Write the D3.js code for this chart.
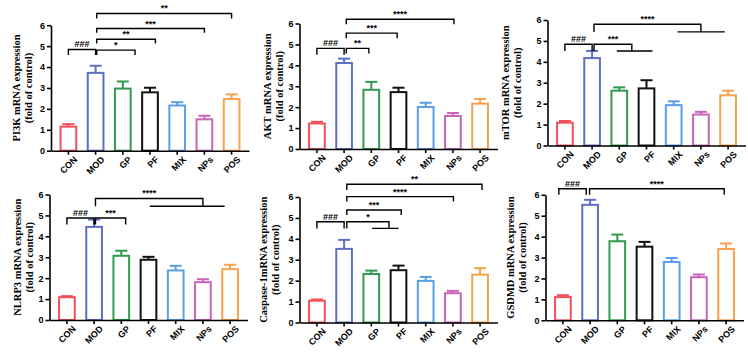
<!DOCTYPE html>
<html lang="en">
<head>
<meta charset="UTF-8">
<title>mRNA expression</title>
<style>
  body { margin: 0; background: #fff; }
  svg { display: block; }
  .axis path, .axis line { stroke: #000; stroke-width: 1.6px; }
  .axis text { font-family: "Liberation Sans", Arial, sans-serif; font-weight: bold; font-size: 9px; fill: #000; }
  .ylab { font-family: "Liberation Serif", "Times New Roman", serif; font-weight: bold; font-size: 10.5px; fill: #000; }
  .sig { font-family: "Liberation Sans", Arial, sans-serif; font-weight: bold; font-size: 9px; fill: #000; }
  .brk { fill: none; stroke: #000; stroke-width: 1.4px; }
</style>
</head>
<body>
<div id="chart"></div>
<script src="https://d3js.org/d3.v7.min.js"></script>
<script>
// groups and colours
var categories = ["CON", "MOD", "GP", "PF", "MIX", "NPs", "POS"];
var colors = ["#f0505a", "#5f6fc6", "#2f9a4e", "#111111", "#5a9ee6", "#c964b8", "#f7a24e"];
var yTicks = [0, 1, 2, 3, 4, 5, 6];

// mean and SEM
var pi3kMean  = [1.15, 3.72, 2.97, 2.79, 2.16, 1.50, 2.47];
var pi3kSem   = [0.12, 0.34, 0.34, 0.22, 0.16, 0.17, 0.22];
var aktMean   = [1.22, 4.11, 2.83, 2.72, 2.01, 1.58, 2.17];
var aktSem    = [0.08, 0.21, 0.38, 0.21, 0.20, 0.14, 0.22];
var mtorMean  = [1.09, 4.18, 2.62, 2.73, 1.93, 1.48, 2.40];
var mtorSem   = [0.08, 0.34, 0.16, 0.39, 0.18, 0.13, 0.22];
var nlrp3Mean = [1.09, 4.45, 3.07, 2.88, 2.37, 1.81, 2.43];
var nlrp3Sem  = [0.05, 0.35, 0.24, 0.14, 0.22, 0.14, 0.21];
var caspMean  = [1.04, 3.52, 2.32, 2.50, 1.99, 1.40, 2.29];
var caspSem   = [0.06, 0.43, 0.16, 0.22, 0.19, 0.11, 0.31];
var gsdmdMean = [1.11, 5.52, 3.78, 3.52, 2.79, 2.06, 3.41];
var gsdmdSem  = [0.09, 0.24, 0.32, 0.23, 0.19, 0.13, 0.26];

// significance brackets: from/to in group index units, level in data units
// low = where the legs end, group = optional line under the right leg
var pi3kSig = [
  {from: 0, to: 1, y: 4.84, low: 4.57, label: "###"},
  {from: 1.04, to: 2.45, y: 4.81, low: 4.57, label: "*"},
  {from: 1.04, to: 3.2, y: 5.33, low: 5.13, label: "**"},
  {from: 1.04, to: 5.0, y: 5.84, low: 5.64, label: "***"},
  {from: 1.04, to: 6.0, y: 6.56, low: 6.32, label: "**"}
];
var aktSig = [
  {from: 0, to: 1, y: 4.81, low: 4.51, label: "###"},
  {from: 1.08, to: 1.91, y: 4.81, low: 4.57, label: "**"},
  {from: 1.08, to: 2.95, y: 5.54, low: 5.3, label: "***"},
  {from: 1.08, to: 5.04, y: 6.2, low: 5.96, label: "****"}
];
var mtorSig = [
  {from: 0, to: 1, y: 4.84, low: 4.52, label: "###"},
  {from: 1.07, to: 2.46, y: 4.84, low: 4.52, label: "***", group: [1.91, 3.22]},
  {from: 1.07, to: 5.0, y: 5.8, low: 5.43, label: "****", group: [4.14, 5.88]}
];
var nlrp3Sig = [
  {from: 0, to: 1, y: 4.88, low: 4.56, label: "###"},
  {from: 1.05, to: 2.16, y: 4.88, low: 4.56, label: "***"},
  {from: 1.05, to: 5.0, y: 5.81, low: 5.44, label: "****", group: [3.05, 5.8]}
];
var caspSig = [
  {from: 0, to: 1, y: 4.82, low: 4.5, label: "###"},
  {from: 1.1, to: 2.65, y: 4.82, low: 4.5, label: "*", group: [2.03, 3.0]},
  {from: 1.1, to: 3.1, y: 5.38, low: 5.14, label: "***"},
  {from: 1.1, to: 5.02, y: 6.02, low: 5.78, label: "****"},
  {from: 1.1, to: 6.07, y: 6.61, low: 6.34, label: "**"}
];
var gsdmdSig = [
  {from: -0.15, to: 0.86, y: 6.29, low: 6.0, label: "###"},
  {from: 0.98, to: 5.93, y: 6.29, low: 6.0, label: "****"}
];

// panel layout
var panels = [
  {title: "PI3K mRNA expression", mean: pi3kMean, sem: pi3kSem, sig: pi3kSig, ox: 51, y0: 150.7, ldx: 35},
  {title: "AKT mRNA expression", mean: aktMean, sem: aktSem, sig: aktSig, ox: 299.5, y0: 149, ldx: 32},
  {title: "mTOR mRNA expression", mean: mtorMean, sem: mtorSem, sig: mtorSig, ox: 547.5, y0: 145.5, ldx: 42},
  {title: "NLRP3 mRNA expression", mean: nlrp3Mean, sem: nlrp3Sem, sig: nlrp3Sig, ox: 49.5, y0: 320, ldx: 32},
  {title: "Caspase-1mRNA expression", mean: caspMean, sem: caspSem, sig: caspSig, ox: 299.5, y0: 322.5, ldx: 36},
  {title: "GSDMD mRNA expression", mean: gsdmdMean, sem: gsdmdSem, sig: gsdmdSig, ox: 545.5, y0: 320.3, ldx: 35}
];

var W = 748, H = 353;
var plotW = 198, plotH = 125.5;
var barW = 17.7, capW = 12;

var svg = d3.select("#chart").append("svg")
  .attr("width", W).attr("height", H);

panels.forEach(function(p) {
  var g = svg.append("g").attr("transform", "translate(" + p.ox + "," + (p.y0 - plotH) + ")");

  var x = d3.scaleBand().domain(categories).range([0, plotW])
    .paddingInner(0.35).paddingOuter(0.315);
  var y = d3.scaleLinear().domain([0, 6]).range([plotH, 0]);
  // index -> x, for the brackets
  var xi = d3.scaleLinear().domain([0, 1])
    .range([x(categories[0]) + x.bandwidth() / 2, x(categories[1]) + x.bandwidth() / 2]);

  var rows = categories.map(function(c, i) {
    return {cat: c, mean: p.mean[i], sem: p.sem[i], color: colors[i]};
  });

  // error bars (upper only)
  var eb = g.append("g").selectAll("g").data(rows).join("g");
  eb.append("line")
    .attr("x1", function(d) { return x(d.cat) + x.bandwidth() / 2; })
    .attr("x2", function(d) { return x(d.cat) + x.bandwidth() / 2; })
    .attr("y1", function(d) { return y(d.mean); })
    .attr("y2", function(d) { return y(d.mean + d.sem); })
    .attr("stroke", function(d) { return d.color; })
    .attr("stroke-width", 2);
  eb.append("line")
    .attr("x1", function(d) { return x(d.cat) + x.bandwidth() / 2 - capW / 2; })
    .attr("x2", function(d) { return x(d.cat) + x.bandwidth() / 2 + capW / 2; })
    .attr("y1", function(d) { return y(d.mean + d.sem); })
    .attr("y2", function(d) { return y(d.mean + d.sem); })
    .attr("stroke", function(d) { return d.color; })
    .attr("stroke-width", 2);

  // hollow bars
  g.append("g").selectAll("rect").data(rows).join("rect")
    .attr("x", function(d) { return x(d.cat) + (x.bandwidth() - barW) / 2 + 1; })
    .attr("width", barW - 2)
    .attr("y", function(d) { return y(d.mean); })
    .attr("height", function(d) { return y(0) - y(d.mean); })
    .attr("fill", "#fff")
    .attr("stroke", function(d) { return d.color; })
    .attr("stroke-width", 2);

  // axes
  g.append("g").attr("class", "axis")
    .call(d3.axisLeft(y).tickValues(yTicks).tickSize(4).tickSizeOuter(0).tickPadding(2).tickFormat(d3.format("d")));
  var xa = g.append("g").attr("class", "axis")
    .attr("transform", "translate(0," + plotH + ")")
    .call(d3.axisBottom(x).tickSize(4).tickSizeOuter(0).tickPadding(2));
  xa.selectAll("text")
    .attr("text-anchor", "end")
    .attr("dy", "0.35em")
    .attr("transform", "translate(3,3) rotate(-45)");

  // y label, two lines
  var lab = g.append("text").attr("class", "ylab")
    .attr("transform", "translate(" + (-p.ldx) + "," + (plotH / 2) + ") rotate(-90)")
    .attr("text-anchor", "middle");
  lab.append("tspan").attr("x", 0).attr("dy", "0.35em").text(p.title);
  lab.append("tspan").attr("x", 0).attr("dy", "1.15em").text("(fold of control)");

  // brackets
  p.sig.forEach(function(s) {
    var x1 = xi(s.from), x2 = xi(s.to);
    var path = d3.path();
    path.moveTo(x1, y(s.low));
    path.lineTo(x1, y(s.y));
    path.lineTo(x2, y(s.y));
    path.lineTo(x2, y(s.low));
    if (s.group) {
      path.moveTo(xi(s.group[0]), y(s.low));
      path.lineTo(xi(s.group[1]), y(s.low));
    }
    g.append("path").attr("class", "brk").attr("d", path.toString());
    g.append("text").attr("class", "sig")
      .attr("x", (x1 + x2) / 2)
      .attr("y", y(s.y) - 2)
      .attr("text-anchor", "middle")
      .text(s.label);
  });
});
</script>
</body>
</html>
